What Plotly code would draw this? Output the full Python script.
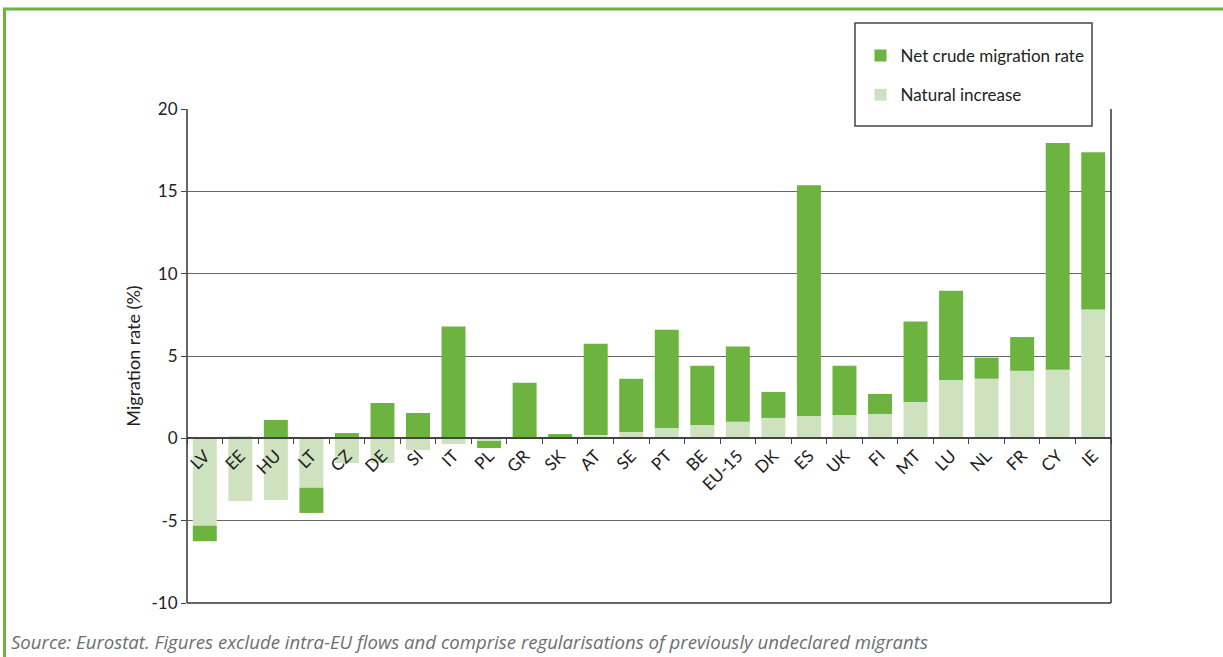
import plotly.graph_objects as go

countries = ["LV", "EE", "HU", "LT", "CZ", "DE", "SI", "IT", "PL", "GR", "SK", "AT", "SE",
             "PT", "BE", "EU-15", "DK", "ES", "UK", "FI", "MT", "LU", "NL", "FR", "CY", "IE"]
natural_increase = [-5.3, -3.8, -3.75, -3.0, -1.5, -1.5, -0.7, -0.35, -0.16, 0.0, 0.0, 0.2, 0.38,
                    0.63, 0.81, 1.0, 1.24, 1.36, 1.42, 1.48, 2.21, 3.55, 3.62, 4.1, 4.16, 7.82]
net_migration = [-0.95, 0.1, 1.12, -1.53, 0.32, 2.15, 1.54, 6.79, -0.43, 3.37, 0.26, 5.55, 3.24,
                 5.97, 3.6, 4.58, 1.58, 14.01, 2.99, 1.22, 4.88, 5.41, 1.28, 2.05, 13.77, 9.56]
y_ticks = [-10, -5, 0, 5, 10, 15, 20]

DARK = "#6db33f"
LIGHT = "#cfe2bf"
FONT = "Lato"

# plot area in page pixels
PL, PR, PT, PB = 187, 1111, 109, 603
PW, PH = PR - PL, PB - PT


def px(x):
    return (x - PL) / PW


def py(y):
    return (PB - y) / PH


fig = go.Figure()
fig.add_trace(go.Bar(x=countries, y=natural_increase, name="Natural increase",
                     marker=dict(color=LIGHT, line=dict(width=0)), width=0.675,
                     legendgroup="b", legendrank=2))
fig.add_trace(go.Bar(x=countries, y=net_migration, name="Net crude migration rate",
                     marker=dict(color=DARK, line=dict(width=0)), width=0.675,
                     legendgroup="a", legendrank=1))

shapes = [
    dict(type="line", xref="paper", yref="paper", x0=0, x1=0, y0=0, y1=1,
         line=dict(color="#333", width=1.5)),
    dict(type="line", xref="paper", yref="paper", x0=1, x1=1, y0=0, y1=1,
         line=dict(color="#333", width=1.5)),
    dict(type="line", xref="paper", yref="paper", x0=0, x1=1, y0=0, y1=0,
         line=dict(color="#333", width=1.5)),
    # legend box
    dict(type="rect", xref="paper", yref="paper",
         x0=px(855), x1=px(1092), y0=py(126), y1=py(23),
         line=dict(color="#444", width=1.5), fillcolor="rgba(0,0,0,0)"),
    # green page border
    dict(type="line", xref="paper", yref="paper",
         x0=px(3), x1=px(1223), y0=py(9), y1=py(9),
         line=dict(color="#6db33f", width=3)),
    dict(type="line", xref="paper", yref="paper",
         x0=px(4.5), x1=px(4.5), y0=py(657), y1=py(8),
         line=dict(color="#6db33f", width=3)),
]

fig.update_layout(
    width=1223, height=657,
    margin=dict(l=PL, r=1223 - PR, t=PT, b=657 - PB),
    paper_bgcolor="white", plot_bgcolor="white",
    barmode="relative",
    font=dict(family=FONT, size=17, color="#222"),
    showlegend=True,
    legend=dict(x=px(860.5), y=py(38), xanchor="left", yanchor="top",
                traceorder="grouped", tracegroupgap=14,
                bgcolor="rgba(0,0,0,0)", borderwidth=0,
                font=dict(family=FONT, size=17, color="#222")),
    xaxis=dict(anchor="free", position=1 / 3, showgrid=False, zeroline=False,
               showline=True, linecolor="#444", linewidth=2,
               ticks="outside", ticklen=5, tickcolor="#444", tickson="boundaries",
               tickangle=-45, tickfont=dict(size=17, color="#222"),
               range=[-0.5, len(countries) - 0.5]),
    yaxis=dict(range=[-10, 20], tickvals=y_ticks, ticktext=[str(v) for v in y_ticks],
               showgrid=True, gridcolor="#666", gridwidth=1,
               zeroline=False, showline=False,
               ticks="outside", ticklen=5, tickcolor="#444",
               tickfont=dict(size=17, color="#222"),
               title=dict(text="Migration rate (%)", standoff=6,
                          font=dict(size=18, color="#222"))),
    shapes=shapes,
    annotations=[dict(
        text="<i>Source: Eurostat. Figures exclude intra-EU flows and comprise regularisations of previously undeclared migrants</i>",
        xref="paper", yref="paper", x=px(9), y=py(641),
        xanchor="left", yanchor="middle", showarrow=False,
        font=dict(family="Open Sans", size=18.6, color="#6d6e71"))],
)

fig.write_html("out.html", config={"displayModeBar": False},
               post_script="document.body.style.margin='0';")
